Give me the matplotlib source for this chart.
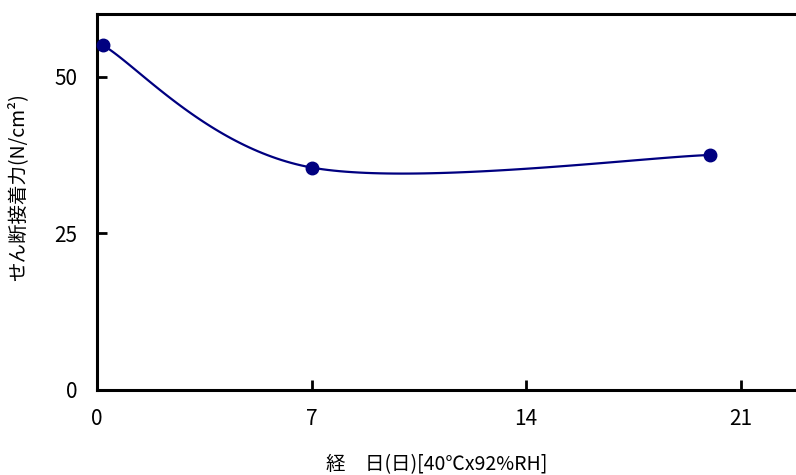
import numpy as np
import matplotlib
matplotlib.use("Agg")
import matplotlib.pyplot as plt

plt.rcParams['font.family'] = ['Noto Sans CJK JP', 'DejaVu Sans']

days = [0.2, 7, 20]
force = [55, 35.5, 37.5]
xticks = [0, 7, 14, 21]
yticks = [0, 25, 50]

fig = plt.figure(figsize=(7.96, 4.75), dpi=100)
ax = fig.add_axes([97 / 796, 85 / 475, 705 / 796, 376 / 475])
ax.set_xlim(0, 23)
ax.set_ylim(0, 60)
fig.canvas.draw()

# Excel-like smoothed line, built in display space
pts = ax.transData.transform(np.column_stack([days, force]))
ext = np.vstack([pts[0], pts, pts[-1]])
curve = []
t = np.linspace(0, 1, 60)[:, None]
for i in range(len(pts) - 1):
    p0 = ext[i + 1]
    p3 = ext[i + 2]
    c1 = p0 + (ext[i + 2] - ext[i]) / 6
    c2 = p3 - (ext[i + 3] - ext[i + 1]) / 6
    seg = ((1 - t) ** 3) * p0 + 3 * ((1 - t) ** 2) * t * c1 + 3 * (1 - t) * t ** 2 * c2 + t ** 3 * p3
    curve.append(seg)
curve = ax.transData.inverted().transform(np.vstack(curve))

ax.plot(curve[:, 0], curve[:, 1], color='#000080', lw=1.6, zorder=3)
ax.plot(days, force, 'o', color='#000080', ms=9, zorder=4, clip_on=False)

ax.set_xticks(xticks)
ax.set_yticks(yticks)
ax.tick_params(direction='in', length=7, width=2, labelsize=15, pad=13)
ax.tick_params(axis='y', pad=14)
for s in ax.spines.values():
    s.set_linewidth(2.2)

fig.text(437 / 796, 1 - 465 / 475, '経　日(日)[40℃x92%RH]', ha='center', va='center', fontsize=14)
fig.text(18 / 796, 1 - 187 / 475, 'せん断接着力(N/cm²)', ha='center', va='center', rotation=90, fontsize=14)

fig.savefig('out.png', dpi=100)
